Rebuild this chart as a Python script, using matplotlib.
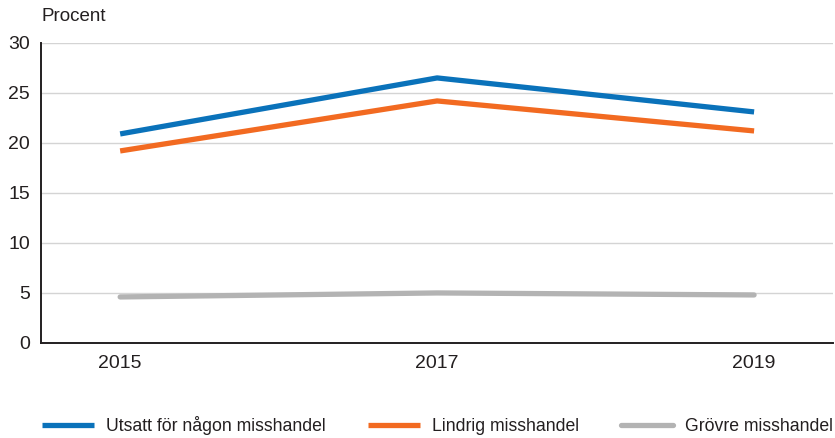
import matplotlib
matplotlib.use("Agg")
import matplotlib.pyplot as plt

plt.rcParams["font.family"] = ["Liberation Sans", "DejaVu Sans"]

years = [2015, 2017, 2019]
utsatt = [20.9, 26.5, 23.1]
lindrig = [19.2, 24.2, 21.2]
grovre = [4.6, 5.0, 4.8]
yticks = [0, 5, 10, 15, 20, 25, 30]

BLUE = "#0a72ba"
ORANGE = "#f26a21"
GREY = "#b3b3b3"
DARK = "#231f20"

fig = plt.figure(figsize=(8.35, 4.38), dpi=100)
ax = fig.add_axes([0.049, 0.217, 0.949, 0.685])

for y in yticks[1:]:
    ax.axhline(y, color="#d4d4d4", lw=1.0, zorder=1)

ax.plot(years, utsatt, color=BLUE, lw=3.8, solid_capstyle="butt", label="Utsatt för någon misshandel", zorder=3)
ax.plot(years, lindrig, color=ORANGE, lw=3.8, solid_capstyle="butt", label="Lindrig misshandel", zorder=3)
ax.plot(years, grovre, color=GREY, lw=3.8, solid_capstyle="round", label="Grövre misshandel", zorder=3)

ax.set_xlim(2014.5, 2019.5)
ax.set_ylim(0, 30)
ax.set_xticks(years)
ax.set_yticks(yticks)
ax.tick_params(axis="both", length=0, labelsize=14, colors=DARK)
ax.tick_params(axis="y", pad=8)
ax.tick_params(axis="x", pad=9)

for side in ("top", "right"):
    ax.spines[side].set_visible(False)
for side in ("left", "bottom"):
    ax.spines[side].set_color(DARK)
    ax.spines[side].set_linewidth(1.4)

fig.text(0.05, 0.963, "Procent", fontsize=13.5, color=DARK, ha="left", va="center")

fig.legend(loc="lower left", bbox_to_anchor=(0.031, -0.03), ncol=3, frameon=False,
           fontsize=12.7, handlelength=2.95, handletextpad=0.72, columnspacing=2.35,
           labelcolor=DARK)

fig.savefig("out.png", dpi=100)
